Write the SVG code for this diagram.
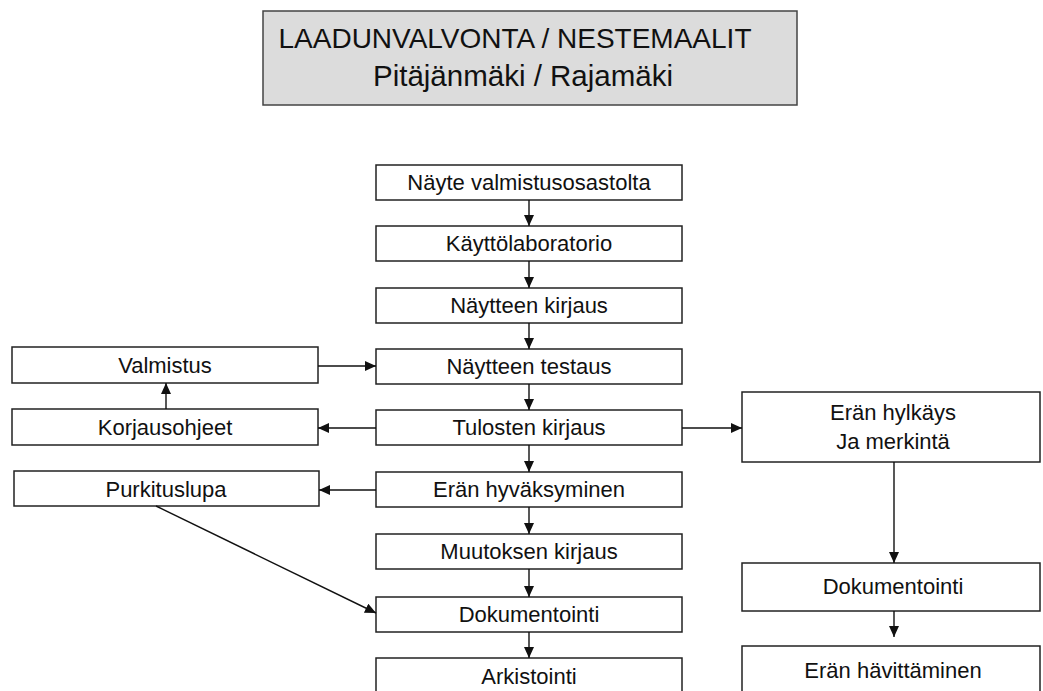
<svg xmlns="http://www.w3.org/2000/svg" width="1043" height="691" viewBox="0 0 1043 691">
<style>
.box{fill:#fff;stroke:#222;stroke-width:1.5}
.title{fill:#dcdcdc;stroke:#444;stroke-width:1.5}
text{font-family:"Liberation Sans",Arial,sans-serif;font-size:22px;fill:#111;text-anchor:middle}
.t1{font-size:28px}
.t2{font-size:29.5px}
.c{stroke:#111;stroke-width:1.4;fill:none;marker-end:url(#ah)}
</style>
<defs>
<marker id="ah" markerUnits="userSpaceOnUse" markerWidth="12" markerHeight="10" refX="11" refY="5" orient="auto">
<path d="M0,0 L11,5 L0,10 Z" fill="#111"/>
</marker>
</defs>
<rect width="1043" height="691" fill="#fff"/>
<g id="title">
<rect class="title" x="263" y="11" width="534" height="94"/>
<text class="t1" x="515" y="48">LAADUNVALVONTA / NESTEMAALIT</text>
<text class="t2" x="523" y="86">Pitäjänmäki / Rajamäki</text>
</g>
<g id="n1"><rect class="box" x="376" y="165" width="306" height="35"/><text x="529" y="190">Näyte valmistusosastolta</text></g>
<g id="n2"><rect class="box" x="376" y="226" width="306" height="35"/><text x="529" y="251">Käyttölaboratorio</text></g>
<g id="n3"><rect class="box" x="376" y="288" width="306" height="35"/><text x="529" y="313">Näytteen kirjaus</text></g>
<g id="n4"><rect class="box" x="376" y="349" width="306" height="35"/><text x="529" y="374">Näytteen testaus</text></g>
<g id="n5"><rect class="box" x="376" y="410" width="306" height="35"/><text x="529" y="435">Tulosten kirjaus</text></g>
<g id="n6"><rect class="box" x="376" y="472" width="306" height="35"/><text x="529" y="497">Erän hyväksyminen</text></g>
<g id="n7"><rect class="box" x="376" y="534" width="306" height="35"/><text x="529" y="559">Muutoksen kirjaus</text></g>
<g id="n8"><rect class="box" x="376" y="597" width="306" height="35"/><text x="529" y="622">Dokumentointi</text></g>
<g id="n9"><rect class="box" x="376" y="658" width="306" height="40"/><text x="529" y="684">Arkistointi</text></g>
<g id="valmistus"><rect class="box" x="12" y="347" width="306" height="36"/><text x="165" y="373">Valmistus</text></g>
<g id="korjaus"><rect class="box" x="12" y="409" width="306" height="36"/><text x="165" y="435">Korjausohjeet</text></g>
<g id="purkitus"><rect class="box" x="14" y="471" width="305" height="35"/><text x="166" y="497">Purkituslupa</text></g>
<g id="hylkays"><rect class="box" x="742" y="392" width="298" height="70"/><text x="893" y="420">Erän hylkäys</text><text x="893" y="449">Ja merkintä</text></g>
<g id="dok2"><rect class="box" x="742" y="563" width="298" height="48"/><text x="893" y="594">Dokumentointi</text></g>
<g id="havitys"><rect class="box" x="742" y="646" width="298" height="52"/><text x="893" y="678">Erän hävittäminen</text></g>
<g id="connectors">
<line class="c" x1="529" y1="200" x2="529" y2="226"/>
<line class="c" x1="529" y1="261" x2="529" y2="288"/>
<line class="c" x1="529" y1="323" x2="529" y2="349"/>
<line class="c" x1="529" y1="384" x2="529" y2="410"/>
<line class="c" x1="529" y1="445" x2="529" y2="472"/>
<line class="c" x1="529" y1="507" x2="529" y2="534"/>
<line class="c" x1="529" y1="569" x2="529" y2="597"/>
<line class="c" x1="529" y1="632" x2="529" y2="658"/>
<line class="c" x1="318" y1="366" x2="376" y2="366"/>
<line class="c" x1="166" y1="409" x2="166" y2="383"/>
<line class="c" x1="376" y1="428" x2="318" y2="428"/>
<line class="c" x1="376" y1="490" x2="319" y2="490"/>
<line class="c" x1="156" y1="506" x2="376" y2="613"/>
<line class="c" x1="682" y1="428" x2="742" y2="428"/>
<line class="c" x1="894" y1="462" x2="894" y2="563"/>
<line class="c" x1="894" y1="611" x2="894" y2="637"/>
</g>
</svg>
